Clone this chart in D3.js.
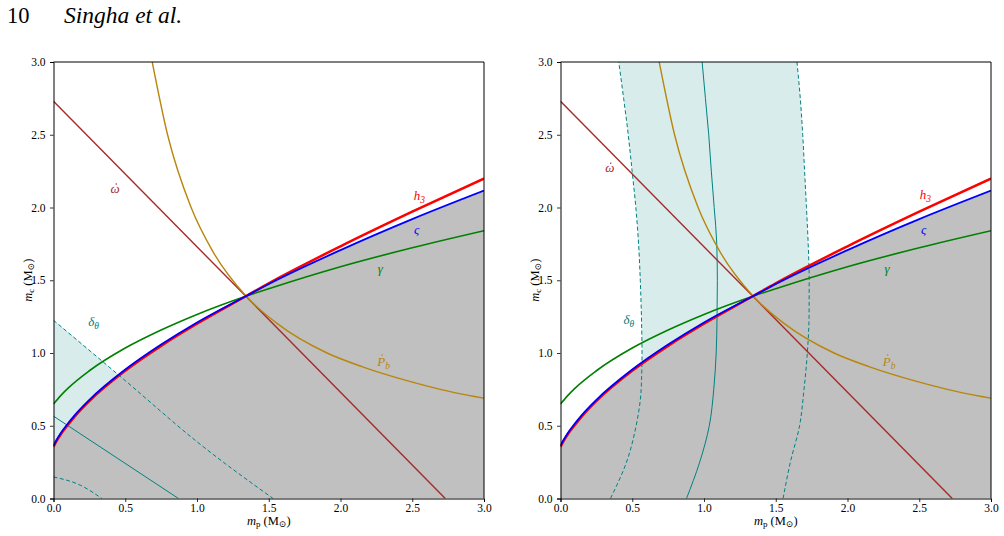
<!DOCTYPE html>
<meta charset="utf-8">
<style>
body { margin: 0; background: #fff; }
text { font-family: "Liberation Serif", "DejaVu Serif", serif; fill: #000; }
.tick line { stroke: #000; stroke-width: 0.8; }
</style>
<body></body>
<script src="https://d3js.org/d3.v7.min.js"></script>
<script>
// ---- data (masses in solar masses) ----
var tickVals = [0, 0.5, 1.0, 1.5, 2.0, 2.5, 3.0];

// omega-dot: straight line, total mass
var omdotMp = [0, 2.73];
var omdotMc = [2.73, 0];

// Pb-dot
var pbdotMp = [0.688, 0.795, 0.959, 1.109, 1.343, 1.562, 1.906, 2.154, 2.482, 2.688, 2.934, 3.0];
var pbdotMc = [3.0, 2.5, 2.0, 1.7, 1.39, 1.2, 1.0, 0.905, 0.805, 0.752, 0.701, 0.689];

// gamma
var gammaMp = [0, 0.05, 0.1, 0.25, 0.5, 0.75, 1.0, 1.34, 1.5, 2.0, 2.5, 3.0];
var gammaMc = [0.649, 0.707, 0.757, 0.878, 1.034, 1.158, 1.265, 1.39, 1.442, 1.593, 1.723, 1.84];

// Shapiro: varsigma and h3
var shapMp = [0, 0.02, 0.05, 0.1, 0.15, 0.25, 0.5, 0.75, 1.0, 1.34, 1.5, 2.0, 2.5, 3.0];
var sigmaMc = [0.362, 0.40, 0.449, 0.515, 0.575, 0.678, 0.886, 1.058, 1.21, 1.39, 1.474, 1.707, 1.92, 2.116];
var h3Mc = [0.355, 0.393, 0.440, 0.505, 0.566, 0.670, 0.878, 1.049, 1.201, 1.39, 1.479, 1.733, 1.971, 2.199];

// delta-theta, left panel (functions of mp)
var dthUpMp = [0, 0.5, 1.0, 1.53];
var dthUpMc = [1.225, 0.81, 0.39, 0];
var dthMidMp = [0, 0.871];
var dthMidMc = [0.566, 0];
var dthLoMp = [0, 0.19, 0.337];
var dthLoMc = [0.148, 0.09, 0];

// delta-theta, right panel (mp as a function of mc)
var dthRMc   = [0, 0.25, 0.5, 0.75, 1.0, 1.25, 1.5, 1.75, 2.0, 2.25, 2.5, 2.75, 3.0];
var dthRLoMp = [0.348, 0.460, 0.527, 0.562, 0.568, 0.564, 0.556, 0.544, 0.525, 0.499, 0.472, 0.440, 0.406];
var dthRMidMp = [0.878, 0.970, 1.037, 1.068, 1.085, 1.091, 1.093, 1.089, 1.071, 1.051, 1.033, 1.010, 0.987];
var dthRHiMp = [1.551, 1.602, 1.666, 1.697, 1.720, 1.732, 1.733, 1.726, 1.714, 1.701, 1.688, 1.671, 1.648];

// curve labels: omdot, h3, sigma, gamma, pbdot, dtheta
var leftLabelMp = [0.43, 2.55, 2.53, 2.277, 2.30, 0.279];
var leftLabelMc = [2.13, 2.077, 1.843, 1.58, 0.939, 1.214];
var rightLabelMp = [0.343, 2.543, 2.531, 2.276, 2.29, 0.476];
var rightLabelMc = [2.274, 2.084, 1.843, 1.58, 0.939, 1.225];

var serif = '"Liberation Serif", "DejaVu Serif", serif';

function pts(a, b) { return a.map(function(v, i) { return [v, b[i]]; }); }

var width = 430.5, height = 436.5;
var svg = d3.select("body").append("svg")
    .attr("width", 1004)
    .attr("height", 536);

// page header
svg.append("text").attr("x", 7).attr("y", 23).style("font-size", "22.5px").text("10");
svg.append("text").attr("x", 64).attr("y", 23).style("font-size", "23.5px")
    .style("font-style", "italic").text("Singha et al.");

function drawPanel(left, top, isRight, labMp, labMc, id) {
  var x = d3.scaleLinear().domain([0, 3]).range([0, width]);
  var y = d3.scaleLinear().domain([0, 3]).range([height, 0]);
  var g = svg.append("g").attr("transform", "translate(" + left + "," + top + ")");

  g.append("clipPath").attr("id", "clip" + id)
    .append("rect").attr("width", width).attr("height", height);
  var plot = g.append("g").attr("clip-path", "url(#clip" + id + ")");

  var lineX = d3.line().x(function(d) { return x(d[0]); }).y(function(d) { return y(d[1]); })
      .curve(d3.curveMonotoneX);
  var lineY = d3.line().x(function(d) { return x(d[0]); }).y(function(d) { return y(d[1]); })
      .curve(d3.curveMonotoneY);

  // delta-theta band
  if (isRight) {
    var band = dthRMc.map(function(m, i) { return {mc: m, lo: dthRLoMp[i], hi: dthRHiMp[i]}; });
    plot.append("path").datum(band)
      .attr("fill", "#d9ecec")
      .attr("d", d3.area().curve(d3.curveMonotoneY)
        .y(function(d) { return y(d.mc); })
        .x0(function(d) { return x(d.lo); })
        .x1(function(d) { return x(d.hi); }));
  } else {
    plot.append("path").datum(pts(dthUpMp, dthUpMc))
      .attr("fill", "#d9ecec")
      .attr("d", d3.area().curve(d3.curveMonotoneX)
        .x(function(d) { return x(d[0]); })
        .y0(y(0))
        .y1(function(d) { return y(d[1]); }));
  }

  // excluded region below the Shapiro curve
  plot.append("path").datum(pts(shapMp, sigmaMc))
    .attr("fill", "#c0c0c0")
    .attr("d", d3.area().curve(d3.curveMonotoneX)
      .x(function(d) { return x(d[0]); })
      .y0(y(0))
      .y1(function(d) { return y(d[1]); }));

  // delta-theta lines
  if (isRight) {
    [[dthRLoMp, "4,2.5"], [dthRMidMp, null], [dthRHiMp, "4,2.5"]].forEach(function(c) {
      plot.append("path").datum(pts(c[0], dthRMc))
        .attr("fill", "none").attr("stroke", "#008080").attr("stroke-width", 1)
        .attr("stroke-dasharray", c[1])
        .attr("d", lineY);
    });
  } else {
    [[dthUpMp, dthUpMc, "4,2.5"], [dthMidMp, dthMidMc, null], [dthLoMp, dthLoMc, "4,2.5"]].forEach(function(c) {
      plot.append("path").datum(pts(c[0], c[1]))
        .attr("fill", "none").attr("stroke", "#008080").attr("stroke-width", 1)
        .attr("stroke-dasharray", c[2])
        .attr("d", lineX);
    });
  }

  function curve(mp, mc, color, w) {
    plot.append("path").datum(pts(mp, mc))
      .attr("fill", "none").attr("stroke", color).attr("stroke-width", w)
      .attr("d", lineX);
  }
  curve(omdotMp, omdotMc, "#a52a2a", 1.4);
  curve(pbdotMp, pbdotMc, "#b8860b", 1.4);
  curve(gammaMp, gammaMc, "#008000", 1.6);
  curve(shapMp, h3Mc, "#ff0000", 2.5);
  curve(shapMp, sigmaMc, "#0000ff", 1.8);

  // spines
  g.append("line").attr("x1", 0).attr("x2", width).attr("y1", 0).attr("y2", 0)
    .attr("stroke", "#000").attr("stroke-width", 1);
  g.append("line").attr("x1", width).attr("x2", width).attr("y1", 0).attr("y2", height)
    .attr("stroke", "#000").attr("stroke-width", 1);

  var xAxis = d3.axisBottom(x).tickValues(tickVals).tickFormat(d3.format(".1f"))
      .tickSize(3.5).tickPadding(1.5);
  var yAxis = d3.axisLeft(y).tickValues(tickVals).tickFormat(d3.format(".1f"))
      .tickSize(3.5).tickPadding(4.5);
  var xa = g.append("g").attr("transform", "translate(0," + height + ")").call(xAxis);
  var ya = g.append("g").call(yAxis);
  [xa, ya].forEach(function(a) {
    a.attr("font-family", serif).attr("font-size", 11.5);
    a.select(".domain").attr("stroke", "#000");
    a.selectAll(".tick text").style("font-family", serif).style("font-size", "11.5px");
  });

  // axis titles
  var xl = g.append("text").attr("x", width / 2).attr("y", height + 26)
      .attr("text-anchor", "middle").style("font-size", "12.5px");
  xl.append("tspan").style("font-style", "italic").text("m");
  xl.append("tspan").attr("dy", 2.5).style("font-size", "9px").text("p");
  xl.append("tspan").attr("dy", -2.5).text(" (M");
  xl.append("tspan").attr("dy", 2.5).style("font-size", "9px").text("\u2299");
  xl.append("tspan").attr("dy", -2.5).text(")");

  var yl = g.append("text").attr("transform", "translate(-22," + (height / 2) + ") rotate(-90)")
      .attr("text-anchor", "middle").style("font-size", "12.5px");
  yl.append("tspan").style("font-style", "italic").text("m");
  yl.append("tspan").attr("dy", 2.5).style("font-size", "9px").text("c");
  yl.append("tspan").attr("dy", -2.5).text(" (M");
  yl.append("tspan").attr("dy", 2.5).style("font-size", "9px").text("\u2299");
  yl.append("tspan").attr("dy", -2.5).text(")");

  // curve labels (dot accents drawn as tiny circles)
  var labs = [
    {main: "\u03c9", sub: null, dot: [1, -8.5], color: "#a52a2a"},
    {main: "h", sub: "3", color: "#ff0000"},
    {main: "\u03c2", sub: null, color: "#0000ff"},
    {main: "\u03b3", sub: null, color: "#008000"},
    {main: "P", sub: "b", dot: [-1.5, -11], color: "#b8860b"},
    {main: "\u03b4", sub: "\u03b8", color: "#008080"}
  ];
  labs.forEach(function(l, i) {
    var cx = x(labMp[i]), cy = y(labMc[i]) + 4;
    var t = g.append("text").attr("x", cx).attr("y", cy)
      .attr("text-anchor", "middle").style("font-size", "13px").style("font-style", "italic")
      .style("fill", l.color);
    t.append("tspan").text(l.main);
    if (l.sub) t.append("tspan").attr("dy", 3).style("font-size", "9.5px").text(l.sub);
    if (l.dot) {
      g.append("circle").attr("cx", cx + l.dot[0]).attr("cy", cy + l.dot[1])
        .attr("r", 0.75).attr("fill", l.color);
    }
  });
}

drawPanel(53.5, 62, false, leftLabelMp, leftLabelMc, "a");
drawPanel(560.5, 62, true, rightLabelMp, rightLabelMc, "b");
</script>
